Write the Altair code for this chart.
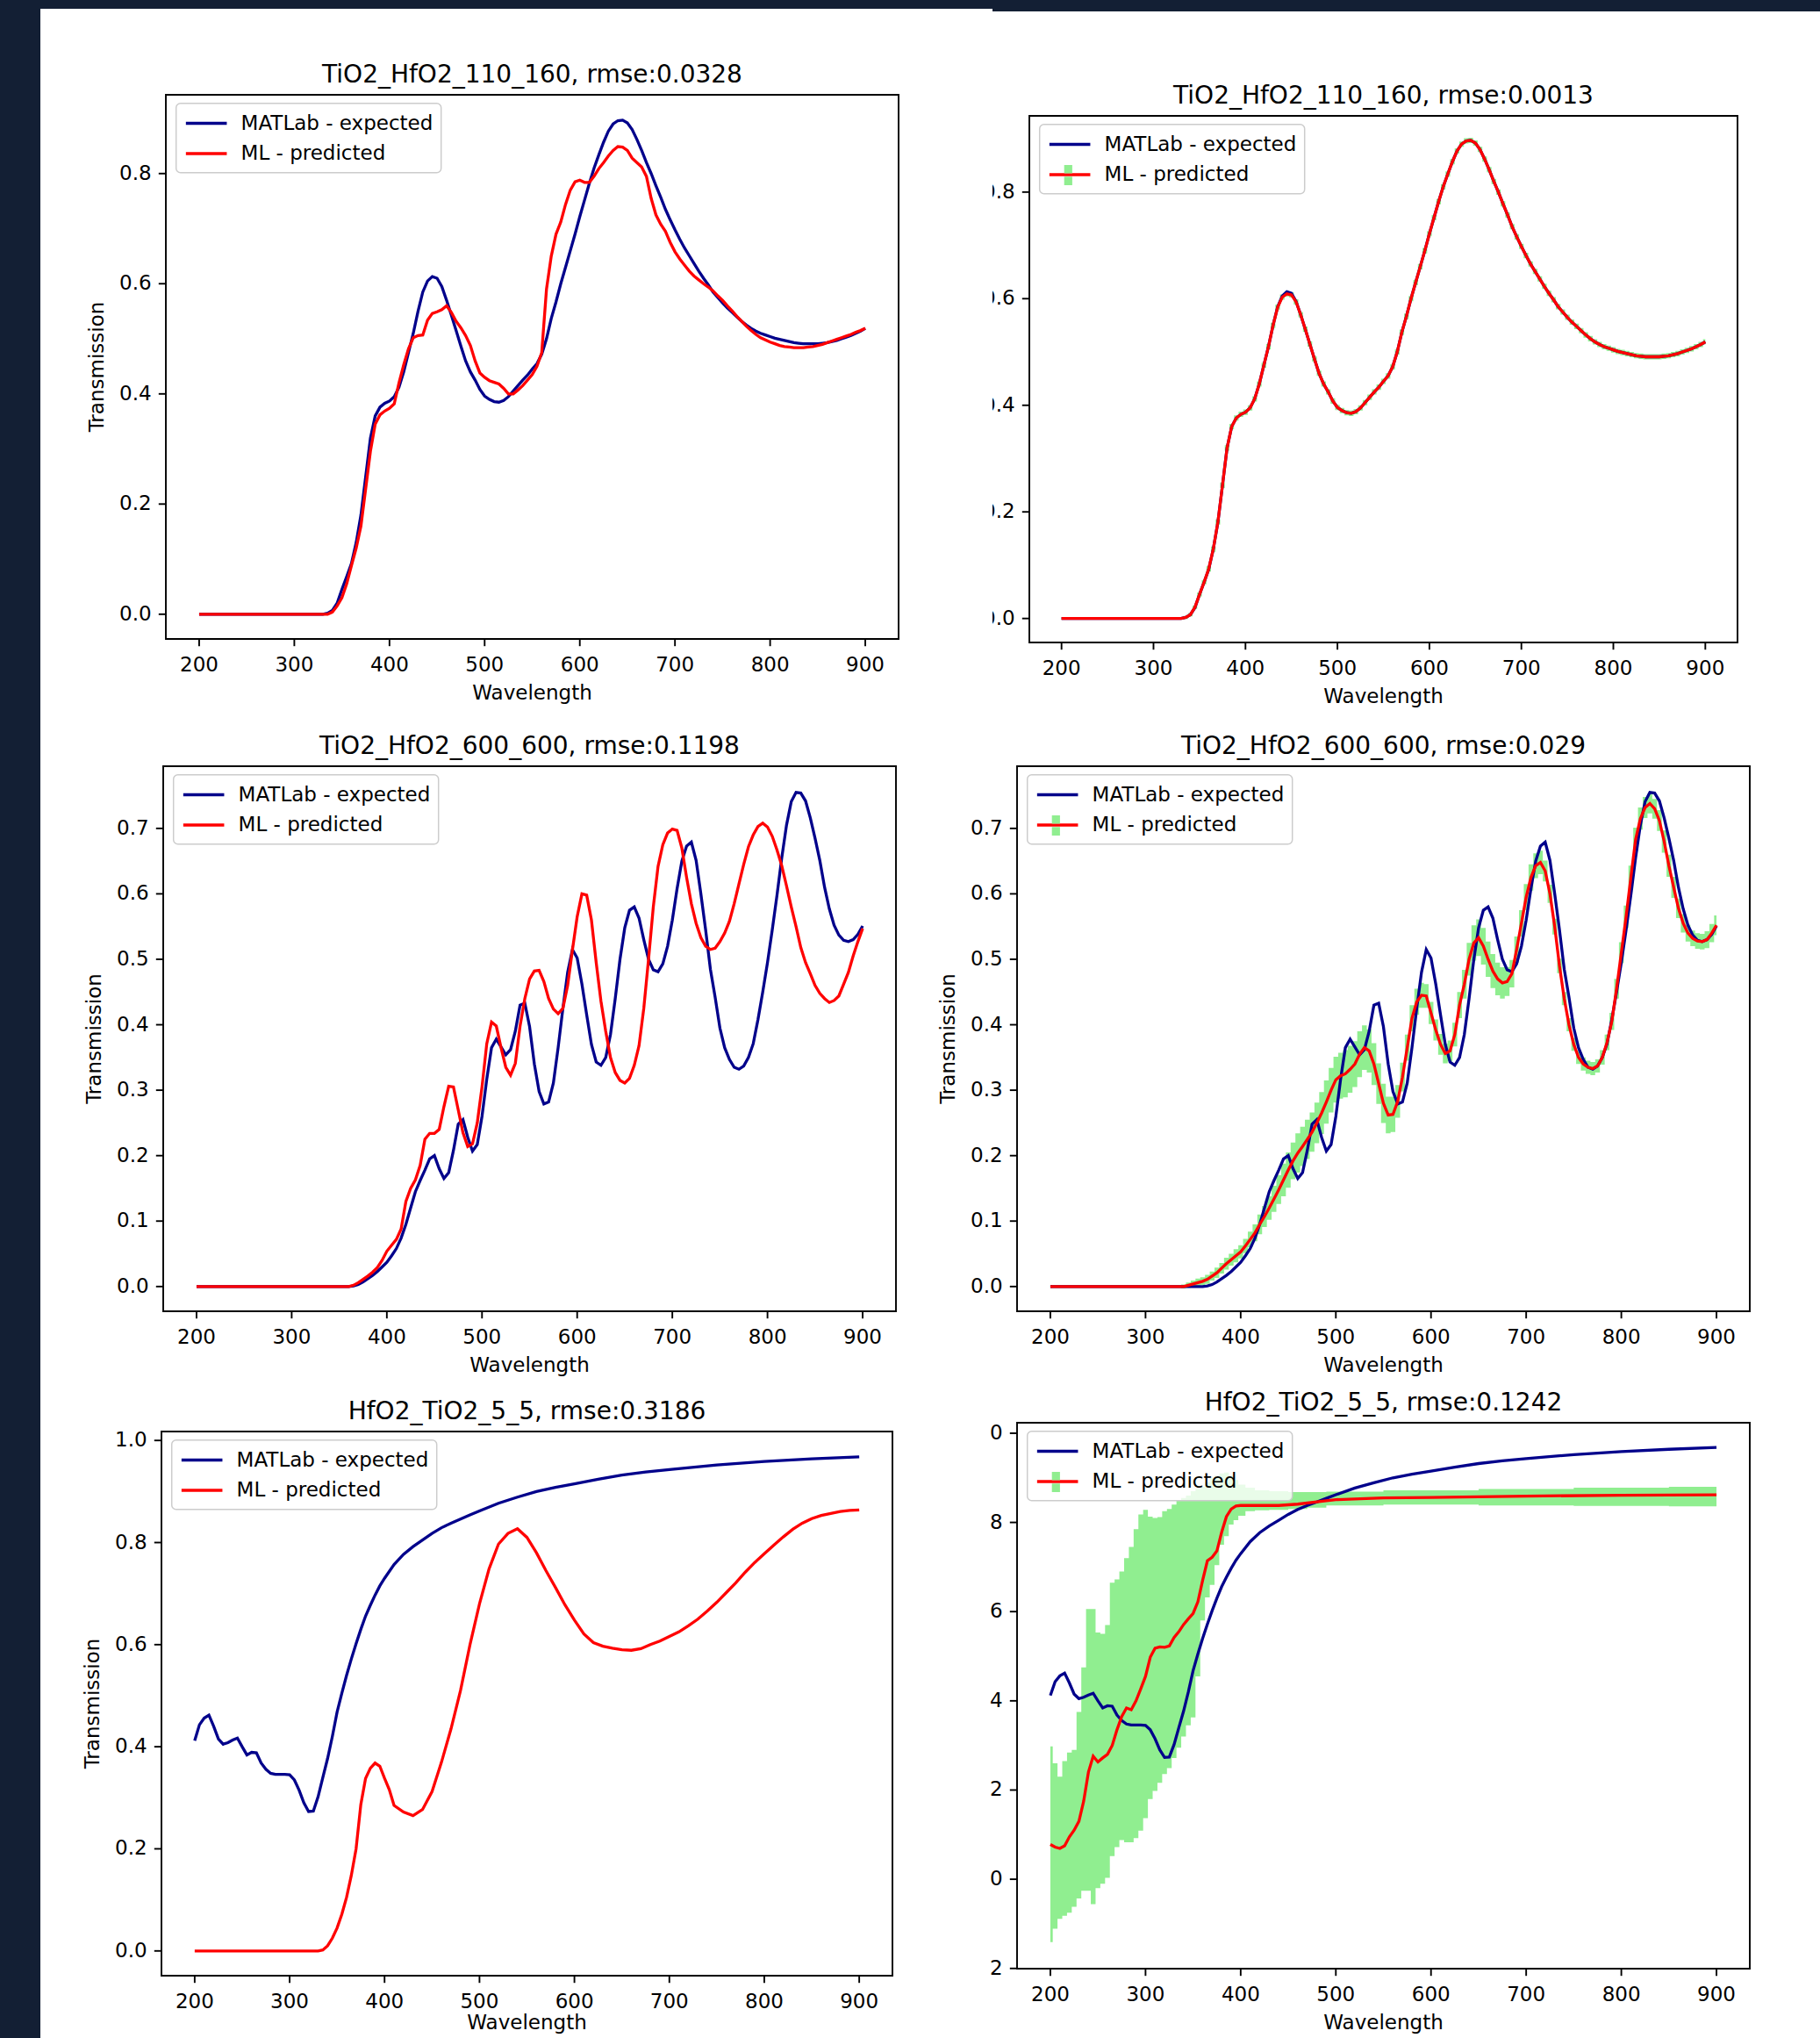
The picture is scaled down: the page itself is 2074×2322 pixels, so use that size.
import altair as alt
import pandas as pd

W, H = 2074, 2322
DARK = "#131f34"
BLUE = "#00008b"
RED = "#ff0000"
GREEN = "#90ee90"
FONT = "DejaVu Sans"
EXP_NAME = "MATLab - expected"
PRED_NAME = "ML - predicted"

XDOM = [165, 935]
XTICKS = [200, 300, 400, 500, 600, 700, 800, 900]

# wavelength grids (nm)
WL5 = list(range(200, 905, 5))

# ---------------- TiO2_HfO2_110_160 ----------------
EXP_A = [
    0, 0, 0, 0, 0, 0, 0, 0, 0, 0,
    0, 0, 0, 0, 0, 0, 0, 0, 0, 0,
    0, 0, 0, 0, 0, 0, 0, 0.002, 0.007, 0.02,
    0.045, 0.068, 0.092, 0.13, 0.18, 0.25, 0.32, 0.36, 0.376, 0.383,
    0.387, 0.395, 0.412, 0.44, 0.475, 0.51, 0.55, 0.585, 0.605, 0.613,
    0.61, 0.595, 0.57, 0.543, 0.515, 0.487, 0.46, 0.44, 0.425, 0.408,
    0.396, 0.39, 0.386, 0.385, 0.388, 0.395, 0.405, 0.415, 0.425, 0.434,
    0.445, 0.455, 0.472, 0.5, 0.537, 0.567, 0.6, 0.63, 0.66, 0.69,
    0.722, 0.752, 0.782, 0.81, 0.834, 0.857, 0.877, 0.89, 0.896, 0.897,
    0.892, 0.88, 0.862, 0.842, 0.82, 0.8, 0.778, 0.757, 0.735, 0.716,
    0.698, 0.681, 0.665, 0.651, 0.637, 0.623, 0.61, 0.598, 0.585, 0.575,
    0.565, 0.556, 0.548, 0.54, 0.532, 0.525, 0.519, 0.514, 0.51, 0.507,
    0.504, 0.501, 0.499, 0.497, 0.495, 0.493, 0.492, 0.491, 0.491, 0.491,
    0.491, 0.492, 0.493, 0.495, 0.497, 0.5, 0.503, 0.506, 0.51, 0.514,
    0.519,
]
PRED1 = [
    0, 0, 0, 0, 0, 0, 0, 0, 0, 0,
    0, 0, 0, 0, 0, 0, 0, 0, 0, 0,
    0, 0, 0, 0, 0, 0, 0, 0, 0.004, 0.015,
    0.03, 0.055, 0.088, 0.12, 0.16, 0.228, 0.296, 0.345, 0.362, 0.369,
    0.374, 0.382, 0.42, 0.453, 0.482, 0.502, 0.506, 0.507, 0.534, 0.546,
    0.549, 0.553, 0.56, 0.548, 0.532, 0.52, 0.506, 0.488, 0.46, 0.438,
    0.43, 0.424, 0.421, 0.418, 0.41, 0.4, 0.4, 0.407, 0.415, 0.425,
    0.435, 0.45, 0.475, 0.59, 0.65, 0.69, 0.712, 0.744, 0.77, 0.785,
    0.788, 0.784, 0.784, 0.795, 0.809, 0.82, 0.832, 0.842, 0.849, 0.848,
    0.842, 0.828, 0.82, 0.812, 0.795, 0.755, 0.725, 0.708, 0.695, 0.675,
    0.658, 0.645, 0.634, 0.623, 0.614, 0.607, 0.6, 0.594, 0.587, 0.578,
    0.57, 0.56, 0.551, 0.541, 0.532, 0.523, 0.515, 0.508, 0.502, 0.498,
    0.494, 0.491, 0.488, 0.486, 0.485, 0.484, 0.484, 0.484, 0.485, 0.486,
    0.488, 0.49, 0.493, 0.496, 0.499, 0.502, 0.505, 0.508, 0.512, 0.515,
    0.519,
]
PRED2 = [
    0, 0, 0, 0, 0, 0, 0, 0, 0, 0,
    0, 0, 0, 0, 0, 0, 0, 0, 0, 0,
    0, 0, 0, 0, 0, 0, 0, 0.002, 0.007, 0.021,
    0.045, 0.068, 0.093, 0.13, 0.181, 0.25, 0.32, 0.36, 0.376, 0.383,
    0.387, 0.395, 0.412, 0.44, 0.475, 0.51, 0.55, 0.584, 0.603, 0.609,
    0.607, 0.594, 0.57, 0.543, 0.515, 0.487, 0.46, 0.44, 0.425, 0.408,
    0.396, 0.39, 0.386, 0.385, 0.388, 0.395, 0.405, 0.415, 0.425, 0.434,
    0.445, 0.455, 0.472, 0.5, 0.537, 0.567, 0.6, 0.63, 0.66, 0.69,
    0.722, 0.752, 0.782, 0.81, 0.834, 0.857, 0.877, 0.89, 0.896, 0.897,
    0.892, 0.88, 0.862, 0.842, 0.82, 0.8, 0.778, 0.757, 0.735, 0.716,
    0.698, 0.681, 0.665, 0.651, 0.637, 0.623, 0.61, 0.598, 0.585, 0.575,
    0.565, 0.556, 0.548, 0.54, 0.532, 0.525, 0.519, 0.514, 0.51, 0.507,
    0.504, 0.501, 0.499, 0.497, 0.495, 0.493, 0.492, 0.491, 0.491, 0.491,
    0.491, 0.492, 0.493, 0.495, 0.497, 0.5, 0.503, 0.506, 0.51, 0.514,
    0.519,
]
STD2 = [
    0.002, 0.002, 0.002, 0.002, 0.002, 0.002, 0.002, 0.002, 0.002, 0.002,
    0.002, 0.002, 0.002, 0.002, 0.002, 0.002, 0.002, 0.002, 0.002, 0.002,
    0.002, 0.002, 0.002, 0.002, 0.002, 0.002, 0.002, 0.003, 0.003, 0.003,
    0.004, 0.004, 0.005, 0.005, 0.005, 0.005, 0.005, 0.005, 0.005, 0.005,
    0.005, 0.005, 0.005, 0.005, 0.005, 0.005, 0.005, 0.005, 0.005, 0.005,
    0.005, 0.005, 0.005, 0.005, 0.005, 0.005, 0.005, 0.005, 0.005, 0.005,
    0.005, 0.005, 0.005, 0.005, 0.005, 0.005, 0.005, 0.005, 0.005, 0.005,
    0.005, 0.005, 0.005, 0.005, 0.005, 0.005, 0.005, 0.005, 0.005, 0.005,
    0.005, 0.005, 0.005, 0.005, 0.005, 0.005, 0.005, 0.005, 0.005, 0.005,
    0.005, 0.005, 0.005, 0.005, 0.005, 0.005, 0.005, 0.005, 0.005, 0.005,
    0.005, 0.005, 0.005, 0.005, 0.005, 0.005, 0.005, 0.005, 0.005, 0.005,
    0.005, 0.005, 0.005, 0.005, 0.005, 0.005, 0.005, 0.005, 0.005, 0.005,
    0.005, 0.005, 0.005, 0.005, 0.005, 0.005, 0.005, 0.005, 0.005, 0.005,
    0.005, 0.005, 0.005, 0.005, 0.005, 0.005, 0.005, 0.005, 0.005, 0.005,
    0.005,
]

# ---------------- TiO2_HfO2_600_600 ----------------
EXP_B = [
    0, 0, 0, 0, 0, 0, 0, 0, 0, 0,
    0, 0, 0, 0, 0, 0, 0, 0, 0, 0,
    0, 0, 0, 0, 0, 0, 0, 0, 0, 0,
    0, 0, 0, 0.001, 0.003, 0.007, 0.012, 0.017, 0.023, 0.03,
    0.037, 0.047, 0.058, 0.074, 0.095, 0.12, 0.145, 0.162, 0.178, 0.195,
    0.2, 0.18, 0.165, 0.174, 0.208, 0.248, 0.255, 0.228, 0.207, 0.217,
    0.26, 0.317, 0.365, 0.378, 0.366, 0.354, 0.362, 0.39, 0.43, 0.433,
    0.397, 0.34, 0.298, 0.279, 0.282, 0.311, 0.365, 0.425, 0.48, 0.515,
    0.502, 0.462, 0.415, 0.37, 0.343, 0.338, 0.35, 0.385, 0.44, 0.5,
    0.548, 0.575, 0.58, 0.563, 0.53, 0.5, 0.484, 0.481, 0.493, 0.52,
    0.56, 0.608, 0.65, 0.673, 0.679, 0.651, 0.6, 0.545, 0.485, 0.442,
    0.395, 0.365, 0.347, 0.335, 0.332, 0.337, 0.35, 0.371, 0.408, 0.45,
    0.495, 0.545, 0.598, 0.655, 0.705, 0.741, 0.755, 0.754, 0.742, 0.716,
    0.685, 0.651, 0.61, 0.577, 0.552, 0.537, 0.529, 0.527, 0.53, 0.538,
    0.551,
]
PRED3 = [
    0, 0, 0, 0, 0, 0, 0, 0, 0, 0,
    0, 0, 0, 0, 0, 0, 0, 0, 0, 0,
    0, 0, 0, 0, 0, 0, 0, 0, 0, 0,
    0, 0, 0, 0.002, 0.006, 0.011, 0.016, 0.022, 0.029, 0.04,
    0.054, 0.063, 0.072, 0.088, 0.13, 0.15, 0.163, 0.185, 0.225, 0.234,
    0.234, 0.24, 0.275, 0.306, 0.305, 0.27, 0.235, 0.214, 0.218, 0.25,
    0.305, 0.371, 0.404, 0.398, 0.365, 0.335, 0.323, 0.341, 0.398, 0.44,
    0.47, 0.482, 0.483, 0.466, 0.44, 0.424, 0.417, 0.425, 0.46, 0.514,
    0.565, 0.6, 0.598, 0.56, 0.495, 0.436, 0.39, 0.35, 0.327, 0.315,
    0.311, 0.318, 0.338, 0.368, 0.425, 0.5, 0.58, 0.642, 0.675, 0.693,
    0.699, 0.697, 0.67, 0.625, 0.585, 0.555, 0.533, 0.52, 0.515, 0.517,
    0.527, 0.54, 0.558, 0.585, 0.615, 0.645, 0.672, 0.69, 0.703, 0.708,
    0.702, 0.688, 0.667, 0.643, 0.612, 0.58, 0.55, 0.518, 0.495, 0.478,
    0.46, 0.448, 0.44, 0.434, 0.437, 0.444, 0.462, 0.48, 0.505, 0.527,
    0.547,
]
PRED4 = [
    0, 0, 0, 0, 0, 0, 0, 0, 0, 0,
    0, 0, 0, 0, 0, 0, 0, 0, 0, 0,
    0, 0, 0, 0, 0, 0, 0, 0, 0, 0.002,
    0.004, 0.006, 0.008, 0.011, 0.016, 0.021, 0.028, 0.035, 0.041, 0.047,
    0.053, 0.062, 0.072, 0.082, 0.095, 0.107, 0.12, 0.134, 0.148, 0.163,
    0.178, 0.192, 0.204, 0.214, 0.225, 0.236, 0.25, 0.265, 0.282, 0.3,
    0.316, 0.322, 0.325, 0.332, 0.34, 0.355, 0.365, 0.36, 0.34, 0.31,
    0.28, 0.262, 0.263, 0.283, 0.32, 0.365, 0.41, 0.435, 0.445, 0.444,
    0.418, 0.392, 0.37, 0.356, 0.36, 0.385, 0.43, 0.462, 0.5, 0.525,
    0.533, 0.52, 0.5, 0.482, 0.47, 0.464, 0.466, 0.478, 0.515, 0.555,
    0.595, 0.625, 0.643, 0.648, 0.635, 0.6, 0.55, 0.49, 0.44, 0.4,
    0.37, 0.35, 0.34, 0.335, 0.333, 0.337, 0.35, 0.373, 0.405, 0.455,
    0.51, 0.565, 0.625, 0.683, 0.715, 0.732, 0.738, 0.73, 0.712, 0.68,
    0.643, 0.61, 0.578, 0.555, 0.54, 0.532, 0.528, 0.527, 0.53, 0.54,
    0.552,
]
STD4 = [
    0.002, 0.002, 0.002, 0.002, 0.002, 0.002, 0.002, 0.002, 0.002, 0.002,
    0.002, 0.002, 0.002, 0.002, 0.002, 0.002, 0.002, 0.002, 0.002, 0.002,
    0.002, 0.002, 0.002, 0.002, 0.002, 0.002, 0.002, 0.002, 0.003, 0.004,
    0.005, 0.006, 0.006, 0.007, 0.007, 0.008, 0.008, 0.009, 0.009, 0.01,
    0.01, 0.011, 0.012, 0.013, 0.015, 0.016, 0.018, 0.02, 0.022, 0.025,
    0.027, 0.028, 0.03, 0.03, 0.03, 0.03, 0.031, 0.032, 0.033, 0.034,
    0.035, 0.035, 0.036, 0.036, 0.035, 0.035, 0.034, 0.033, 0.032, 0.031,
    0.03, 0.028, 0.027, 0.025, 0.022, 0.02, 0.02, 0.02, 0.019, 0.018,
    0.017, 0.016, 0.016, 0.015, 0.016, 0.018, 0.02, 0.022, 0.025, 0.027,
    0.028, 0.028, 0.027, 0.026, 0.025, 0.024, 0.022, 0.021, 0.02, 0.02,
    0.02, 0.02, 0.019, 0.018, 0.016, 0.014, 0.012, 0.011, 0.01, 0.01,
    0.01, 0.01, 0.01, 0.01, 0.01, 0.01, 0.011, 0.012, 0.013, 0.015,
    0.016, 0.017, 0.018, 0.018, 0.017, 0.016, 0.015, 0.015, 0.016, 0.017,
    0.017, 0.016, 0.015, 0.014, 0.013, 0.012, 0.012, 0.012, 0.013, 0.014,
    0.015,
]

# ---------------- HfO2_TiO2_5_5 ----------------
WL_C = list(range(200, 405, 5)) + list(range(410, 510, 10)) + [520, 540, 560, 580, 600, 625, 650, 675, 700, 750, 800, 850, 900]
EXP_C = [
    0.412, 0.443, 0.456, 0.462, 0.44, 0.415, 0.405, 0.408, 0.413, 0.417,
    0.4, 0.384, 0.389, 0.388, 0.368, 0.356, 0.348, 0.346, 0.346, 0.346,
    0.345, 0.335, 0.315, 0.29, 0.273, 0.274, 0.302, 0.34, 0.377, 0.42,
    0.468, 0.505, 0.54, 0.572, 0.602, 0.63, 0.656, 0.677, 0.697, 0.715,
    0.73,
    0.757, 0.777, 0.792, 0.805, 0.818, 0.829, 0.838, 0.846, 0.854, 0.862,
    0.877, 0.889, 0.9, 0.908, 0.915, 0.924, 0.932, 0.938, 0.943, 0.952, 0.959, 0.964, 0.968,
]
WL_P5 = [200] + list(range(330, 415, 5)) + list(range(420, 910, 10))
PRED5 = [
    0,
    0, 0.002, 0.01, 0.025, 0.045, 0.072, 0.105, 0.148, 0.2, 0.287, 0.338, 0.358, 0.368, 0.362, 0.338, 0.316, 0.285,
    0.272, 0.265, 0.277, 0.312, 0.37, 0.435, 0.51, 0.6, 0.68, 0.748,
    0.797, 0.818, 0.827, 0.81, 0.78, 0.745, 0.712, 0.678, 0.648, 0.621,
    0.604, 0.597, 0.593, 0.59, 0.589, 0.592, 0.6, 0.607, 0.616, 0.625,
    0.637, 0.65, 0.666, 0.683, 0.702, 0.721, 0.742, 0.761, 0.778, 0.795,
    0.811, 0.826, 0.838, 0.847, 0.853, 0.857, 0.861, 0.863, 0.864,
]
WL_P6 = list(range(200, 405, 5)) + [420, 440, 460, 480, 500, 550, 600, 700, 800, 900]
PRED6 = [
    0.078, 0.072, 0.069, 0.075, 0.095, 0.11, 0.13, 0.175, 0.24, 0.276,
    0.263, 0.272, 0.28, 0.3, 0.335, 0.365, 0.384, 0.38, 0.4, 0.427,
    0.455, 0.498, 0.518, 0.521, 0.52, 0.523, 0.542, 0.555, 0.571, 0.584,
    0.596, 0.622, 0.67, 0.714, 0.722, 0.736, 0.778, 0.813, 0.83, 0.837,
    0.838,
    0.838, 0.838, 0.841, 0.846, 0.851, 0.855, 0.856, 0.859, 0.861, 0.862,
]
WL_B6 = list(range(200, 405, 5)) + [410, 420, 440, 460, 480, 500, 600, 700, 800, 900]
HI6 = [
    0.298, 0.26, 0.23, 0.265, 0.284, 0.29, 0.375, 0.475, 0.606, 0.606,
    0.553, 0.55, 0.57, 0.665, 0.672, 0.69, 0.72, 0.745, 0.785, 0.818,
    0.828, 0.813, 0.81, 0.812, 0.825, 0.83, 0.84, 0.85, 0.855, 0.86,
    0.87, 0.875, 0.88, 0.89, 0.9, 0.905, 0.91, 0.912, 0.905, 0.895,
    0.885,
    0.878, 0.872, 0.87, 0.868, 0.868, 0.869, 0.872, 0.875, 0.878, 0.88,
]
LO6 = [
    -0.141, -0.111, -0.089, -0.082, -0.075, -0.062, -0.043, -0.026, -0.026, -0.056,
    -0.02, -0.01, 0.003, 0.052, 0.072, 0.088, 0.083, 0.083, 0.092, 0.109,
    0.137, 0.18, 0.198, 0.216, 0.236, 0.249, 0.272, 0.295, 0.32, 0.345,
    0.363, 0.455, 0.58, 0.632, 0.66, 0.704, 0.75, 0.769, 0.795, 0.805,
    0.815,
    0.825, 0.827, 0.828, 0.83, 0.833, 0.838, 0.84, 0.838, 0.837, 0.836,
]

TITLES = {
    1: "TiO2_HfO2_110_160, rmse:0.0328",
    2: "TiO2_HfO2_110_160, rmse:0.0013",
    3: "TiO2_HfO2_600_600, rmse:0.1198",
    4: "TiO2_HfO2_600_600, rmse:0.029",
    5: "HfO2_TiO2_5_5, rmse:0.3186",
    6: "HfO2_TiO2_5_5, rmse:0.1242",
}
YTICKS = {
    1: [0.0, 0.2, 0.4, 0.6, 0.8],
    2: [0.0, 0.2, 0.4, 0.6, 0.8],
    3: [0.0, 0.1, 0.2, 0.3, 0.4, 0.5, 0.6, 0.7],
    4: [0.0, 0.1, 0.2, 0.3, 0.4, 0.5, 0.6, 0.7],
    5: [0.0, 0.2, 0.4, 0.6, 0.8, 1.0],
    6: [-0.2, 0.0, 0.2, 0.4, 0.6, 0.8, 1.0],
}
YDOM = {
    1: [-0.0449, 0.943], 2: [-0.045, 0.943],
    3: [-0.0378, 0.795], 4: [-0.0378, 0.795],
    5: [-0.0485, 1.0175], 6: [-0.2005, 1.0235],
}
# layout: plot frames in pixels (left, top, right, bottom)
FRAMES = {
    1: (189, 108, 1024, 728), 2: (1173, 132, 1980, 732),
    3: (186, 873, 1021, 1494), 4: (1159, 873, 1994, 1494),
    5: (184, 1631, 1017, 2251), 6: (1159, 1621, 1994, 2243),
}

TICK = 8.2
TXT = dict(font=FONT, fontSize=23, color="black")
GREEN_PATH = "M-0.4,-1H0.4V-0.16H-0.4Z M-0.4,0.16H0.4V1H-0.4Z"
LEG_E = 26.6   # legend entry height
LEG_R = 8.5    # legend row padding
LEG_P = 9.3    # legend padding


def tick_label(v):
    return f"{v:.1f}".replace("-", "\u2212")


def make_panel(pid, exp_wl, exp_v, pred_wl, pred_v, band=None):
    fx0, fy0, fx1, fy1 = FRAMES[pid]
    ydom = YDOM[pid]
    xs = alt.Scale(domain=XDOM, range=[fx0, fx1], nice=False, zero=False)
    ys = alt.Scale(domain=ydom, range=[fy1, fy0], nice=False, zero=False)
    X = lambda f: alt.X(f, scale=xs, axis=None)
    Y = lambda f: alt.Y(f, scale=ys, axis=None)
    bx, by = fx0 + 11.7, fy0 + 9.7

    rows = [{"wl": w, "v": v, "series": EXP_NAME} for w, v in zip(exp_wl, exp_v)]
    rows += [{"wl": w, "v": v, "series": PRED_NAME} for w, v in zip(pred_wl, pred_v)]
    line_df = pd.DataFrame(rows)

    layers = []
    if band is not None:
        bwl, blo, bhi = band
        band_df = pd.DataFrame({"wl": bwl, "lo": blo, "hi": bhi, "key": PRED_NAME})
        red_y = by + LEG_P + LEG_E + LEG_R + LEG_E / 2
        layers.append(
            alt.Chart(band_df).mark_area(interpolate="step", opacity=1).encode(
                x=X("wl:Q"), y=Y("lo:Q"), y2="hi:Q",
                fill=alt.Fill("key:N", scale=alt.Scale(domain=[PRED_NAME], range=[GREEN]),
                              legend=alt.Legend(title=None, orient="none", legendX=bx + 32.6 - 11.5,
                                                legendY=red_y - 11.5, symbolType=GREEN_PATH,
                                                symbolSize=529, symbolStrokeWidth=0,
                                                symbolOpacity=1,
                                                labelExpr="''", padding=0, labelOffset=0,
                                                zindex=1)),
            )
        )
    layers.append(
        alt.Chart(line_df).mark_line(strokeWidth=3.3).encode(
            x=X("wl:Q"), y=Y("v:Q"),
            color=alt.Color("series:N",
                            scale=alt.Scale(domain=[EXP_NAME, PRED_NAME], range=[BLUE, RED]),
                            legend=alt.Legend(title=None, orient="none", legendX=bx, legendY=by,
                                              symbolType="M-2,0H2", symbolSize=543,
                                              symbolStrokeWidth=3.3, symbolOffset=11.65,
                                              labelFont=FONT, labelFontSize=23,
                                              labelColor="black", labelLimit=500,
                                              fillColor="rgba(255,255,255,0.8)",
                                              strokeColor="#cccccc", cornerRadius=5,
                                              padding=LEG_P, rowPadding=LEG_R,
                                              labelOffset=25.9)),
        )
    )
    frame_df = pd.DataFrame({"x0": [XDOM[0]], "x1": [XDOM[1]], "y0": [ydom[0]], "y1": [ydom[1]]})
    layers.append(
        alt.Chart(frame_df).mark_rect(fillOpacity=0, stroke="black", strokeWidth=1.9).encode(
            x=X("x0:Q"), x2="x1:Q", y=Y("y0:Q"), y2="y1:Q",
        )
    )
    # x axis (ticks, labels, title)
    xt = pd.DataFrame({"t": XTICKS, "lab": [str(t) for t in XTICKS], "yb": ydom[0]})
    layers.append(alt.Chart(xt).mark_rule(color="black", strokeWidth=1.9, y2Offset=TICK).encode(
        x=X("t:Q"), y=Y("yb:Q"), y2="yb:Q"))
    layers.append(alt.Chart(xt).mark_text(baseline="middle", align="center", dy=30, **TXT).encode(
        x=X("t:Q"), y=Y("yb:Q"), text="lab:N"))
    xtitle = pd.DataFrame({"x": [(XDOM[0] + XDOM[1]) / 2], "y": [ydom[0]], "t": ["Wavelength"]})
    title_dy = min(62, H - 17 - fy1)   # keep the axis title inside the page
    layers.append(alt.Chart(xtitle).mark_text(baseline="middle", align="center", dy=title_dy, **TXT).encode(
        x=X("x:Q"), y=Y("y:Q"), text="t:N"))
    # y axis (ticks, labels, title)
    yt = pd.DataFrame({"t": YTICKS[pid], "lab": [tick_label(v) for v in YTICKS[pid]], "xl": XDOM[0]})
    layers.append(alt.Chart(yt).mark_rule(color="black", strokeWidth=1.9, x2Offset=-TICK).encode(
        x=X("xl:Q"), x2="xl:Q", y=Y("t:Q")))
    layers.append(alt.Chart(yt).mark_text(baseline="middle", align="right", dx=-2 * TICK, **TXT).encode(
        x=X("xl:Q"), y=Y("t:Q"), text="lab:N"))
    ytitle = pd.DataFrame({"y": [(ydom[0] + ydom[1]) / 2], "t": ["Transmission"]})
    layers.append(alt.Chart(ytitle).mark_text(baseline="middle", align="center", angle=270, **TXT).encode(
        x=alt.value(fx0 - 78), y=Y("y:Q"), text="t:N"))
    # title
    title_df = pd.DataFrame({"x": [(XDOM[0] + XDOM[1]) / 2], "y": [ydom[1]], "t": [TITLES[pid]]})
    layers.append(
        alt.Chart(title_df).mark_text(fontSize=28, font=FONT, baseline="alphabetic",
                                      align="center", dy=-14, color="black").encode(
            x=X("x:Q"), y=Y("y:Q"), text="t:N",
        )
    )
    return alt.layer(*layers)


def chrome(rows):
    df = pd.DataFrame(rows, columns=["x0", "x1", "y0", "y1", "c"])
    return alt.Chart(df).mark_rect(strokeWidth=0).encode(
        x=alt.X("x0:Q", scale=None, axis=None), x2="x1:Q",
        y=alt.Y("y0:Q", scale=None, axis=None), y2="y1:Q",
        color=alt.Color("c:N", scale=None, legend=None),
    )


# window chrome of the screenshot: dark desktop strips
back = chrome([
    (0, 46, 0, H, DARK),
    (46, 1131, 0, 10, DARK),
    (1131, W, 0, 13, DARK),
])
# the left window overlaps the right one and hides part of its y labels
clip = chrome([
    (1035, 1131, 13, 860, "white"),
    (1035, 1127, 1550, H, "white"),
])

band2 = (WL5, [p - s for p, s in zip(PRED2, STD2)], [p + s for p, s in zip(PRED2, STD2)])
band4 = (WL5, [p - s for p, s in zip(PRED4, STD4)], [p + s for p, s in zip(PRED4, STD4)])
band6 = (WL_B6, LO6, HI6)

panels = [
    make_panel(1, WL5, EXP_A, WL5, PRED1),
    make_panel(2, WL5, EXP_A, WL5, PRED2, band2),
    make_panel(3, WL5, EXP_B, WL5, PRED3),
    make_panel(4, WL5, EXP_B, WL5, PRED4, band4),
    make_panel(5, WL_C, EXP_C, WL_P5, PRED5),
    make_panel(6, WL_C, EXP_C, WL_P6, PRED6, band6),
]

chart = (
    alt.layer(back, *panels, clip)
    .resolve_scale(x="independent", y="independent", color="independent", fill="independent")
    .resolve_legend(color="independent", fill="independent")
    .properties(width=W, height=H, autosize=alt.AutoSizeParams(type="none"), padding=0,
                background="white")
    .configure_view(stroke=None)
    .configure_legend(strokeWidth=1.5)
)

chart.save("out.html", embed_options={"renderer": "svg", "actions": False})
